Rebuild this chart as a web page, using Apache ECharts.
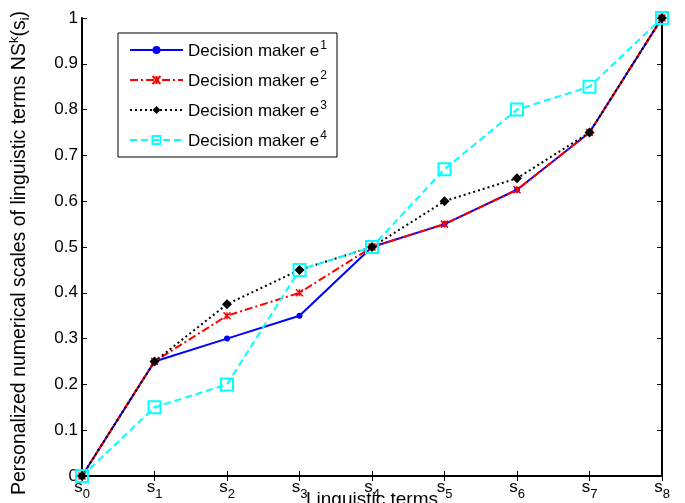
<!DOCTYPE html>
<html>
<head>
<meta charset="utf-8">
<script src="https://cdn.jsdelivr.net/npm/echarts@6/dist/echarts.min.js"></script>
<style>html,body{margin:0;padding:0;background:#fff}#c{width:685px;height:503px}</style>
</head>
<body>
<div id="c"></div>
<script>
const categories = ['0','1','2','3','4','5','6','7','8'];
const e1 = [0, 0.25, 0.30, 0.35, 0.50, 0.55, 0.625, 0.75, 1];
const e2 = [0, 0.25, 0.35, 0.40, 0.50, 0.55, 0.625, 0.75, 1];
const e3 = [0, 0.25, 0.375, 0.45, 0.50, 0.60, 0.65, 0.75, 1];
const e4 = [0, 0.15, 0.20, 0.45, 0.50, 0.67, 0.80, 0.85, 1];
const seriesNames = ['e1','e2','e3','e4'];
const supers = ['1','2','3','4'];

const font = 'Liberation Sans, Arial, Helvetica, sans-serif';
const chart = echarts.init(document.getElementById('c'));

const tickCommon = {show:true, inside:true, length:5, lineStyle:{color:'#000', width:1}};
const axisLineCommon = {show:true, lineStyle:{color:'#000', width:2}};

chart.setOption({
  animation:false,
  backgroundColor:'#fff',
  grid:{left:82, right:23, top:18, bottom:27, containLabel:false, outerBoundsMode:'none'},
  legend:{
    orient:'vertical', left:118, top:33,
    backgroundColor:'#fff', borderColor:'#000', borderWidth:1,
    padding:[7,10,7,11], itemGap:10, itemWidth:53, itemHeight:10,
    data:seriesNames,
    formatter: function(n){ const i = seriesNames.indexOf(n); return '{t|Decision maker e}{sup|' + supers[i] + '}'; },
    textStyle:{fontFamily:font, color:'#000', fontSize:17,
      rich:{t:{fontFamily:font, fontSize:17, color:'#000', lineHeight:20, verticalAlign:'bottom'},
            sup:{fontFamily:font, fontSize:12, color:'#000', lineHeight:20, verticalAlign:'top', padding:[0,0,8,1]}}}
  },
  xAxis:[{
    type:'category', data:categories, boundaryGap:false,
    axisLine:axisLineCommon, axisTick:Object.assign({}, tickCommon, {alignWithLabel:true}),
    splitLine:{show:false},
    axisLabel:{interval:0, margin:3, formatter: v => '{s|s}{sub|' + v + '}',
      rich:{s:{fontFamily:font, fontSize:17, color:'#000', lineHeight:22, verticalAlign:'top'},
            sub:{fontFamily:font, fontSize:13, color:'#000', lineHeight:22, verticalAlign:'bottom', padding:[10,0,0,0]}}},
    name:'Linguistic terms', nameLocation:'middle', nameGap:14, nameMoveOverlap:false,
    nameTextStyle:{fontFamily:font, fontSize:19, color:'#000', verticalAlign:'top'}
  },{
    type:'category', data:categories, boundaryGap:false, position:'top',
    axisLine:axisLineCommon, axisTick:tickCommon, axisLabel:{show:false}, splitLine:{show:false}
  }],
  yAxis:[{
    type:'value', min:0, max:1, interval:0.1,
    axisLine:axisLineCommon, axisTick:tickCommon, splitLine:{show:false},
    axisLabel:{margin:4, fontFamily:font, fontSize:17, color:'#000',
      formatter: v => (Math.round(v*10)/10).toString()},
    name:'{t|Personalized numerical scales of linguistic terms NS}{sup|k}{t|(s}{sub|i}{t|)}',
    nameLocation:'middle', nameRotate:90, nameGap:50, nameMoveOverlap:false,
    nameTextStyle:{fontFamily:font, fontSize:19.5, color:'#000', padding:[0,12,0,0],
      rich:{t:{fontFamily:font, fontSize:19.5, color:'#000', lineHeight:24},
            sup:{fontFamily:font, fontSize:13, color:'#000', lineHeight:24, verticalAlign:'top', padding:[0,0,7,0]},
            sub:{fontFamily:font, fontSize:13, color:'#000', lineHeight:24, verticalAlign:'bottom', padding:[7,0,0,0]}}}
  },{
    type:'value', min:0, max:1, interval:0.1, position:'right',
    axisLine:axisLineCommon, axisTick:tickCommon, axisLabel:{show:false}, splitLine:{show:false}
  }],
  series:[
    {name:'e1', type:'line', data:e1, symbol:'circle', symbolSize:6,
     lineStyle:{color:'#0000ff', width:2, type:'solid'}, itemStyle:{color:'#0000ff'}},
    {name:'e2', type:'line', data:e2, symbol:'path://M0,0 L10,10 M10,0 L0,10 M5,0 L5,10', symbolSize:7,
     lineStyle:{color:'#ff0000', width:2, type:[8,3,2,3]}, itemStyle:{color:'#ff0000', borderColor:'#ff0000', borderWidth:1.5}},
    {name:'e3', type:'line', data:e3, symbol:'diamond', symbolSize:10,
     lineStyle:{color:'#000000', width:2, type:[2,3]}, itemStyle:{color:'#000000'}},
    {name:'e4', type:'line', data:e4, symbol:'rect', symbolSize:12,
     lineStyle:{color:'#00ffff', width:2, type:[7,4]}, itemStyle:{color:'rgba(255,255,255,0)', borderColor:'#00ffff', borderWidth:2}}
  ]
});
</script>
</body>
</html>
